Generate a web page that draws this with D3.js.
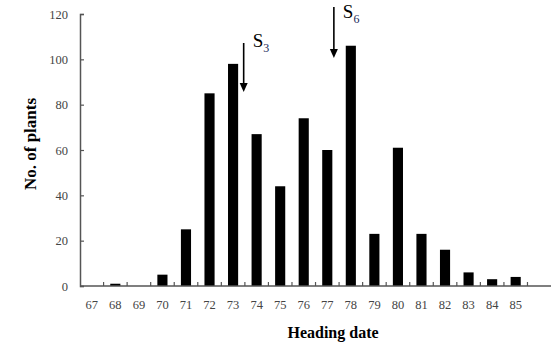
<!DOCTYPE html>
<html>
<head>
<meta charset="utf-8">
<script src="https://cdn.jsdelivr.net/npm/d3@7"></script>
<style>
  body { margin: 0; background: #fff; }
  svg text { font-family: "Liberation Serif", "DejaVu Serif", serif; }
</style>
</head>
<body>
<script>
// heading date categories (last band is empty, unlabelled)
const days = ['67','68','69','70','71','72','73','74','75','76','77','78','79','80','81','82','83','84','85','86'];
const dayLabels = ['67','68','69','70','71','72','73','74','75','76','77','78','79','80','81','82','83','84','85',''];
const plants = [0, 1, 0, 5, 25, 85, 98, 67, 44, 74, 60, 106, 23, 61, 23, 16, 6, 3, 4, 0];
const yTicks = [0, 20, 40, 60, 80, 100, 120];
// selection markers: position between days, label
const markers = [
  { at: 73.45, label: 'S', sub: '3', top: 43, bottom: 92, textY: 47 },
  { at: 77.28, label: 'S', sub: '6', top: 7, bottom: 58, textY: 18 }
];

const W = 558, H = 351;
const margin = { top: 14, right: 7, bottom: 65, left: 80 };
const width = W - margin.left - margin.right;
const height = H - margin.top - margin.bottom;

const svg = d3.select('body')
    .append('svg')
    .attr('width', W)
    .attr('height', H)
    .append('g')
    .attr('transform', `translate(${margin.left},${margin.top})`);

const x = d3.scaleBand()
    .domain(days)
    .range([0, width])
    .paddingInner(0.57)
    .paddingOuter(0.285);

const y = d3.scaleLinear()
    .domain([0, 120])
    .range([height, 0]);

// bars
svg.selectAll('.bar')
    .data(plants)
    .enter()
    .append('rect')
    .attr('class', 'bar')
    .attr('x', (d, i) => x(days[i]))
    .attr('y', d => y(d))
    .attr('width', x.bandwidth())
    .attr('height', d => height - y(d))
    .attr('fill', '#000');

// y axis
const yAxis = svg.append('g')
    .call(d3.axisLeft(y).tickValues(yTicks).tickSize(-4).tickPadding(12));
yAxis.select('.domain').attr('stroke', '#555').attr('stroke-width', 1.5);
yAxis.selectAll('.tick line').attr('stroke', '#555').attr('stroke-width', 1.2);
yAxis.selectAll('text')
    .style('font-size', '12.5px')
    .attr('fill', '#444');

// x axis: ticks at band boundaries, labels at band centres
const step = x.step();
const xAxis = svg.append('g').attr('transform', `translate(0,${height})`);
xAxis.append('line')
    .attr('x1', 0).attr('x2', width)
    .attr('y1', 0).attr('y2', 0)
    .attr('stroke', '#555').attr('stroke-width', 1.5);
xAxis.selectAll('.xtick')
    .data(days.slice(1))
    .enter()
    .append('line')
    .attr('x1', d => x(d) - x.bandwidth() * 0.66)
    .attr('x2', d => x(d) - x.bandwidth() * 0.66)
    .attr('y1', 0).attr('y2', -4)
    .attr('stroke', '#555').attr('stroke-width', 1.2);
xAxis.selectAll('.xlabel')
    .data(days)
    .enter()
    .append('text')
    .attr('x', d => x(d) + x.bandwidth() / 2)
    .attr('y', 23)
    .attr('text-anchor', 'middle')
    .style('font-size', '12.5px')
    .attr('fill', '#444')
    .text((d, i) => dayLabels[i]);

// axis titles
svg.append('text')
    .attr('x', 253)
    .attr('y', 324)
    .attr('text-anchor', 'middle')
    .style('font-size', '16px')
    .style('font-weight', 'bold')
    .text('Heading date');

svg.append('text')
    .attr('transform', `translate(-44,${144 - margin.top}) rotate(-90)`)
    .attr('text-anchor', 'middle')
    .style('font-size', '17px')
    .style('font-weight', 'bold')
    .text('No. of plants');

// arrows
const xDay = v => {
    const i = Math.floor(v) - 67;
    return x(days[i]) + x.bandwidth() / 2 + (v - Math.floor(v)) * step;
};
markers.forEach(m => {
    const mx = xDay(m.at);
    svg.append('line')
        .attr('x1', mx).attr('x2', mx)
        .attr('y1', m.top - margin.top).attr('y2', m.bottom - margin.top - 8)
        .attr('stroke', '#000').attr('stroke-width', 1.6);
    svg.append('path')
        .attr('d', `M${mx - 4},${m.bottom - margin.top - 9} L${mx + 4},${m.bottom - margin.top - 9} L${mx},${m.bottom - margin.top} Z`)
        .attr('fill', '#000');
    const t = svg.append('text')
        .attr('x', mx + 9)
        .attr('y', m.textY - margin.top)
        .style('font-size', '19px')
        .attr('fill', '#000');
    t.append('tspan').text(m.label);
    t.append('tspan')
        .attr('dy', 5)
        .style('font-size', '12px')
        .attr('fill', '#1a2a5a')
        .text(m.sub);
});
</script>
</body>
</html>
